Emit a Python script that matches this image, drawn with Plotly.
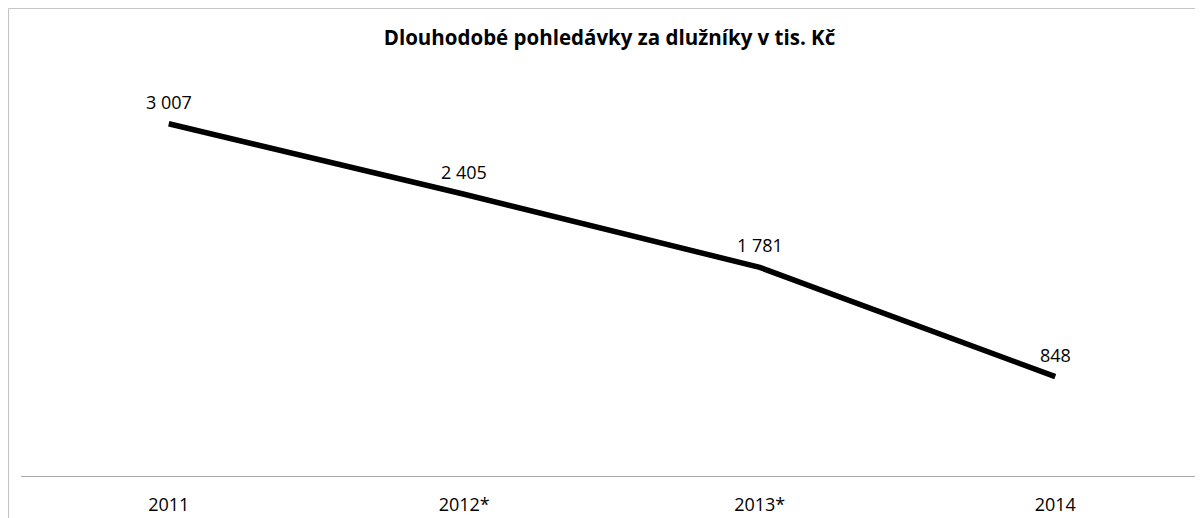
import plotly.graph_objects as go

categories = ["2011", "2012*", "2013*", "2014"]
values = [3007, 2405, 1781, 848]
title = "Dlouhodobé pohledávky za dlužníky v tis. Kč"

FONT = "Open Sans, Liberation Sans, sans-serif"

fig = go.Figure()
fig.add_trace(go.Scatter(
    x=categories, y=values, mode="lines",
    line=dict(color="#000000", width=5.5),
    hoverinfo="skip", showlegend=False,
))

for i, v in enumerate(values):
    fig.add_annotation(
        x=i, y=v, text=f"{v:,}".replace(",", " "),
        showarrow=False, yshift=22, xanchor="center", yanchor="middle",
        font=dict(family=FONT, size=18, color="#000000"),
    )

# outer chart border (partially cropped in reference)
fig.add_shape(type="rect", xref="paper", yref="paper",
              x0=-0.0105, x1=1.05, y0=-0.3, y1=1.1405,
              line=dict(color="#bfbfbf", width=1), layer="below")

fig.update_layout(
    width=1203, height=518,
    margin=dict(l=13, r=8, t=58, b=50),
    paper_bgcolor="white", plot_bgcolor="white",
    title=dict(text=f"<b>{title}</b>", x=0.5, xanchor="center",
               y=1 - 30 / 518, yanchor="middle",
               font=dict(family=FONT, size=20.5, color="#000000")),
    xaxis=dict(type="category", range=[-0.5, 3.5], showgrid=False, zeroline=False,
               showline=True, linecolor="#a6a6a6", linewidth=1,
               ticks="", tickfont=dict(family=FONT, size=18, color="#000000"),
               ticklabelstandoff=12),
    yaxis=dict(range=[0, 3500], visible=False, showgrid=False, zeroline=False),
)

fig.write_html("out.html")
